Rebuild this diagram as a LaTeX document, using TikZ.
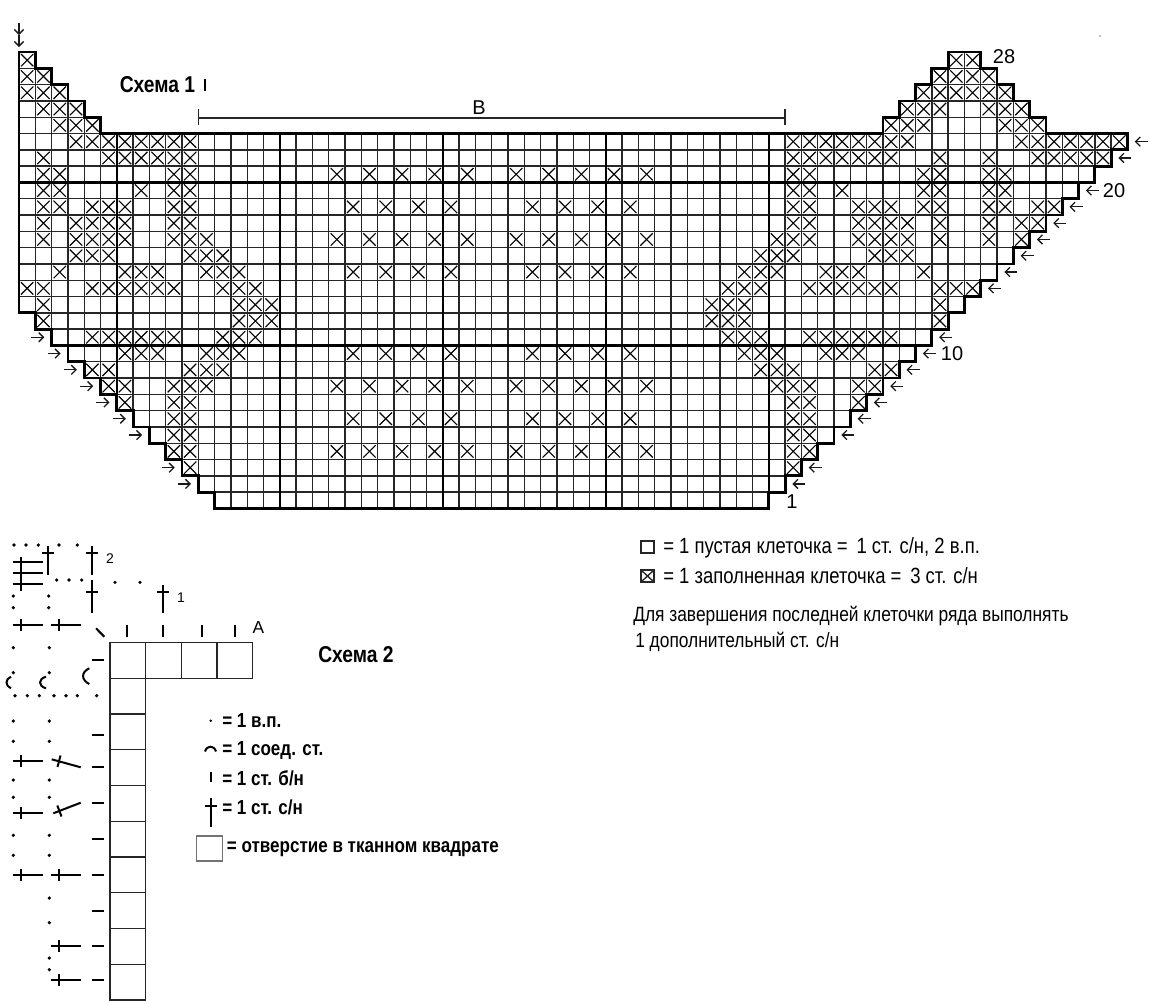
\documentclass[tikz,border=0pt]{standalone}
\usepackage{fontspec}
\setmainfont{Liberation Sans}
\newfontfamily\narrowfont[FakeStretch=0.84]{Liberation Sans}
\usetikzlibrary{arrows.meta}
\tikzset{
    cell/.style={line width=1.05pt, draw=black!85},
    xmark/.style={line width=0.85pt, black},
    heavy/.style={line width=1.8pt, black},
    outline/.style={line width=2.1pt, black, line join=miter},
    rowarrow/.style={line width=0.95pt, black!90, -{Straight Barb[length=3.5pt,width=7pt]}},
    hole/.style={line width=1pt, draw=black!85},
    stitch/.style={line width=1.5pt, black},
    numlabel/.style={inner sep=0pt, font=\fontsize{15}{18}\selectfont},
    smalllabel/.style={inner sep=0pt, font=\fontsize{10.5}{12}\selectfont},
    title/.style={inner sep=0pt, font=\narrowfont\bfseries\fontsize{17.2}{20}\selectfont},
    legend/.style={inner sep=0pt, anchor=west, font=\narrowfont\fontsize{16.5}{19}\selectfont},
    note/.style={inner sep=0pt, anchor=west, font=\narrowfont\fontsize{15.5}{18}\selectfont},
    legendb/.style={inner sep=0pt, anchor=west, font=\narrowfont\bfseries\fontsize{15.2}{18}\selectfont}
}
\begin{document}
\begin{tikzpicture}[x=0.75pt, y=-0.75pt]
    \useasboundingbox (0,0) rectangle (1163,1000);

    % --- CHART 1: column, row units ---
    \begin{scope}[shift={(19,52)}, x=12.225pt, y=-12.225pt]
        % empty cells, row / first column / last column + 1
        \foreach \rw/\ca/\cb in {0/0/1, 1/0/2, 2/0/3, 3/0/4, 4/0/5,
            0/57/59, 1/56/60, 2/55/61, 3/54/62, 4/53/63,
            5/0/68, 6/0/67, 7/0/66, 8/0/65, 9/0/64, 10/0/63, 11/0/62,
            12/0/61, 13/0/60, 14/0/59, 15/0/58, 16/1/57, 17/2/56,
            18/3/55, 19/4/54, 20/5/53, 21/6/52, 22/7/51, 23/8/50,
            24/9/49, 25/10/48, 26/11/47, 27/12/46} {
            \pgfmathtruncatemacro\cl{\cb-1}
            \foreach \c in {\ca,...,\cl}
                \draw[cell] (\c,\rw) rectangle ++(1,1);
        }

        % filled cells
        \foreach \rw/\cols in {
            0/{0,57,58},
            1/{0,1,56,57,58,59},
            2/{0,1,2,55,56,57,58,59,60},
            3/{1,2,3,54,55,56,59,60,61},
            4/{2,3,4,53,54,55,60,61,62},
            5/{3,4,...,10,47,48,...,54,61,62,...,67},
            6/{1,5,6,...,10,47,48,...,53,56,59,62,63,64,65,66},
            7/{1,2,9,10,19,21,23,25,27,30,32,34,36,38,47,48,55,56,59,60},
            8/{1,2,7,9,10,47,48,50,55,56,59,60},
            9/{1,2,4,5,6,9,10,20,22,24,26,31,33,35,37,47,48,51,52,53,55,56,59,60,62,63},
            10/{1,3,4,5,6,9,10,47,48,51,52,53,54,56,59,61,62},
            11/{1,3,4,5,6,9,10,11,19,21,23,25,27,30,32,34,36,38,46,47,48,51,52,53,54,56,59,61},
            12/{3,4,5,10,11,12,45,46,47,52,53,54},
            13/{2,6,7,8,11,12,13,20,22,24,26,31,33,35,37,44,45,46,49,50,51,55},
            14/{0,1,4,5,...,9,12,13,14,43,44,45,48,49,...,53,56,57,58},
            15/{1,13,14,15,42,43,44,56},
            16/{1,13,14,15,42,43,44,56},
            17/{4,5,...,9,12,13,14,43,44,45,48,49,...,53},
            18/{6,7,8,11,12,13,20,22,24,26,31,33,35,37,44,45,46,49,50,51},
            19/{4,5,10,11,12,45,46,47,52,53},
            20/{5,6,9,10,11,19,21,23,25,27,30,32,34,36,38,46,47,48,51,52},
            21/{6,9,10,47,48,51},
            22/{9,10,20,22,24,26,31,33,35,37,47,48},
            23/{9,10,47,48},
            24/{9,10,19,21,23,25,27,30,32,34,36,38,47,48},
            25/{10,47}} {
            \foreach \c in \cols {
                \draw[xmark] (\c+0.12,\rw+0.12) -- (\c+0.88,\rw+0.88);
                \draw[xmark] (\c+0.88,\rw+0.12) -- (\c+0.12,\rw+0.88);
            }
        }

        % every tenth line
        \draw[heavy] (6,5) -- (6,21);
        \foreach \c in {16,26,36,46}
            \draw[heavy] (\c,5) -- (\c,28);
        \draw[heavy] (0,8) -- (65,8);
        \draw[heavy] (3,18) -- (55,18);

        % outer edge
        \draw[outline] (0,0) -- (1,0) -- (1,1) -- (2,1) -- (2,2) -- (3,2) -- (3,3) -- (4,3)
            -- (4,4) -- (5,4) -- (5,5) -- (53,5) -- (53,4) -- (54,4) -- (54,3) -- (55,3)
            -- (55,2) -- (56,2) -- (56,1) -- (57,1) -- (57,0) -- (59,0) -- (59,1) -- (60,1)
            -- (60,2) -- (61,2) -- (61,3) -- (62,3) -- (62,4) -- (63,4) -- (63,5) -- (68,5)
            foreach \k in {68,67,...,47} { -- (\k,74-\k) -- (\k-1,74-\k) }
            -- (46,28) -- (12,28)
            foreach \k in {12,11,...,1} { -- (\k,\k+15) -- (\k-1,\k+15) }
            -- cycle;

        % row arrows
        \foreach \rw/\ca in {17/2, 18/3, 19/4, 20/5, 21/6, 22/7, 23/8, 25/10, 26/11}
            \draw[rowarrow] (\ca-1.25,\rw+0.5) -- (\ca-0.45,\rw+0.5);
        \foreach \rw/\cb in {5/68, 6/67, 8/65, 9/64, 10/63, 11/62, 12/61, 13/60, 14/59,
            17/56, 18/55, 19/54, 20/53, 21/52, 22/51, 23/50, 25/48, 26/47}
            \draw[rowarrow] (\cb+1.25,\rw+0.5) -- (\cb+0.45,\rw+0.5);

        % width mark
        \draw[line width=1pt, black!85] (11,4.05) -- (47,4.05);
        \draw[line width=1pt, black!85] (11,3.5) -- (11,4.5);
        \draw[line width=1pt, black!85] (47,3.5) -- (47,4.5);
    \end{scope}

    % start mark
    \draw[rowarrow] (19,23) -- (19,35);
    \draw[rowarrow] (19,35) -- (19,47);

    \node[title] (chartone) at (157.5,84.5) {Схема 1};
    \draw[line width=1.1pt, black] (205,79) -- (205,91);
    \node[numlabel] (lblwidth) at (479,108) {В};
    \node[numlabel] (lbltop) at (1004,56.5) {28};
    \node[numlabel] (lbltwenty) at (1114,190.5) {20};
    \node[numlabel] (lblten) at (952,353.5) {10};
    \node[numlabel] (lblone) at (792,502) {1};
    \fill (1100,36) circle (0.7);

    % --- LEGEND OF CHART 1 ---
    \draw[hole] (641,541) rectangle (654,553);
    \node[legend] (legempty) at (663,548) {= 1 пустая клеточка =\, 1 ст. с/н, 2 в.п.};
    \draw[hole] (641,570) rectangle (654,582);
    \draw[hole] (641,570) -- (654,582) (654,570) -- (641,582);
    \node[legend] (legfull) at (663,575.5) {= 1 заполненная клеточка =\, 3 ст. с/н};
    \node[note] (noteone) at (633,616) {Для завершения последней клеточки ряда выполнять};
    \node[note] (notetwo) at (635,642) {1 дополнительный ст. с/н};

    % --- CHART 2 ---
    \foreach \c in {0,1,2,3}
        \draw[cell] (110+35.6*\c,642.7) rectangle ++(35.6,35.5);
    \foreach \rw in {0,1,...,8}
        \draw[cell] (110,678.2+35.75*\rw) rectangle ++(35.3,35.75);

    % chain stitches
    \foreach \px/\py in {14/545, 26/545, 38.3/545, 59/545, 77.3/545,
        56.7/580, 69/580, 81.7/580, 115/582.3, 140/582.3,
        13.3/596, 48.7/596, 13.3/607.7, 48.7/607.7,
        13.3/647.7, 49.3/647.7, 13.3/672.7, 49.3/672.7,
        15/695.7, 27.3/695.7, 39.3/695.7, 54/695.7, 66/695.7, 77.3/695.7, 96.7/695.7,
        13.3/721, 49.3/721, 13.3/741.3, 49.3/741.3,
        13.3/780, 49.3/780, 13.3/797.3, 49.3/797.3,
        13.3/835.3, 49.3/835.3, 13.3/855.3, 49.3/855.3,
        49.3/898, 49.3/922.7, 49.3/958, 49.3/969.7}
        \fill (\px,\py) circle (1.8);

    % upright double crochets
    \foreach \px/\ya/\yb/\yc in {48.3/546/575/553.3, 91.7/546/575/553.3,
        91.7/580/613/591.7, 163/585/613/591.7} {
        \draw[stitch] (\px,\ya) -- (\px,\yb);
        \draw[stitch] (\px-6,\yc) -- (\px+6,\yc);
    }

    % sideways double crochets
    \foreach \py in {561.7,573.3,584.3}
        \draw[stitch] (12.7,\py) -- (42.7,\py);
    \draw[stitch] (20.7,556.7) -- (20.7,591);
    \foreach \px/\py in {12.7/625, 51/625, 12.7/761, 12.7/813.3, 12.7/874.7, 51/874.7,
        51/946, 51/980.3} {
        \draw[stitch] (\px,\py) -- (\px+29.8,\py);
        \draw[stitch] (\px+7.8,\py-6) -- (\px+7.8,\py+6);
    }
    \draw[stitch] (51.7,759.3) -- (80.7,767.3);
    \draw[stitch] (60.5,755.5) -- (57.5,767);
    \draw[stitch] (53.3,813.3) -- (80.7,802.7);
    \draw[stitch] (57.3,805.5) -- (61.5,816.5);

    % single crochets
    \foreach \py in {660,735,767.3,803.3,839,874.7,910.7,946,980.3}
        \draw[stitch] (91.7,\py) -- (104,\py);
    \foreach \px in {127,163,202,234.7}
        \draw[stitch] (\px,625) -- (\px,636.7);
    \draw[stitch] (96,628.3) -- (104.3,636.7);

    % slip stitches
    \draw[stitch] (89.3,668.3) .. controls (81,672) and (81,680) .. (89.3,684);
    \draw[stitch] (11,676.7) .. controls (5,679) and (5,686) .. (11,688.3);
    \draw[stitch] (46,676.7) .. controls (38,679) and (38,686) .. (46,688.3);

    \node[smalllabel] (lblroundtwo) at (110,559) {2};
    \node[smalllabel] (lblroundone) at (181,598) {1};
    \node[inner sep=0pt, font=\fontsize{13}{15}\selectfont] (lblstart) at (258.5,627.5) {А};
    \node[title] (charttwo) at (356,655) {Схема 2};

    % --- LEGEND OF CHART 2 ---
    \fill (210.7,720.7) circle (1.4);
    \node[legendb] (legchain) at (222,720.5) {= 1 в.п.};
    \draw[stitch] (205,751.5) .. controls (207,745) and (214,745) .. (216,751.5);
    \node[legendb] (legslip) at (222,751) {= 1 соед. ст.};
    \draw[stitch] (210.7,771.7) -- (210.7,782.3);
    \node[legendb] (legsingle) at (222,778) {= 1 ст. б/н};
    \draw[stitch] (210.7,798) -- (210.7,827);
    \draw[stitch] (205,805.7) -- (216.5,805.7);
    \node[legendb] (legdouble) at (222,807) {= 1 ст. с/н};
    \draw[line width=1.1pt, draw=black!55] (196.7,836) rectangle (222.3,861);
    \node[legendb] (leghole) at (226.7,849) {= отверстие в тканном квадрате};
\end{tikzpicture}
\end{document}
